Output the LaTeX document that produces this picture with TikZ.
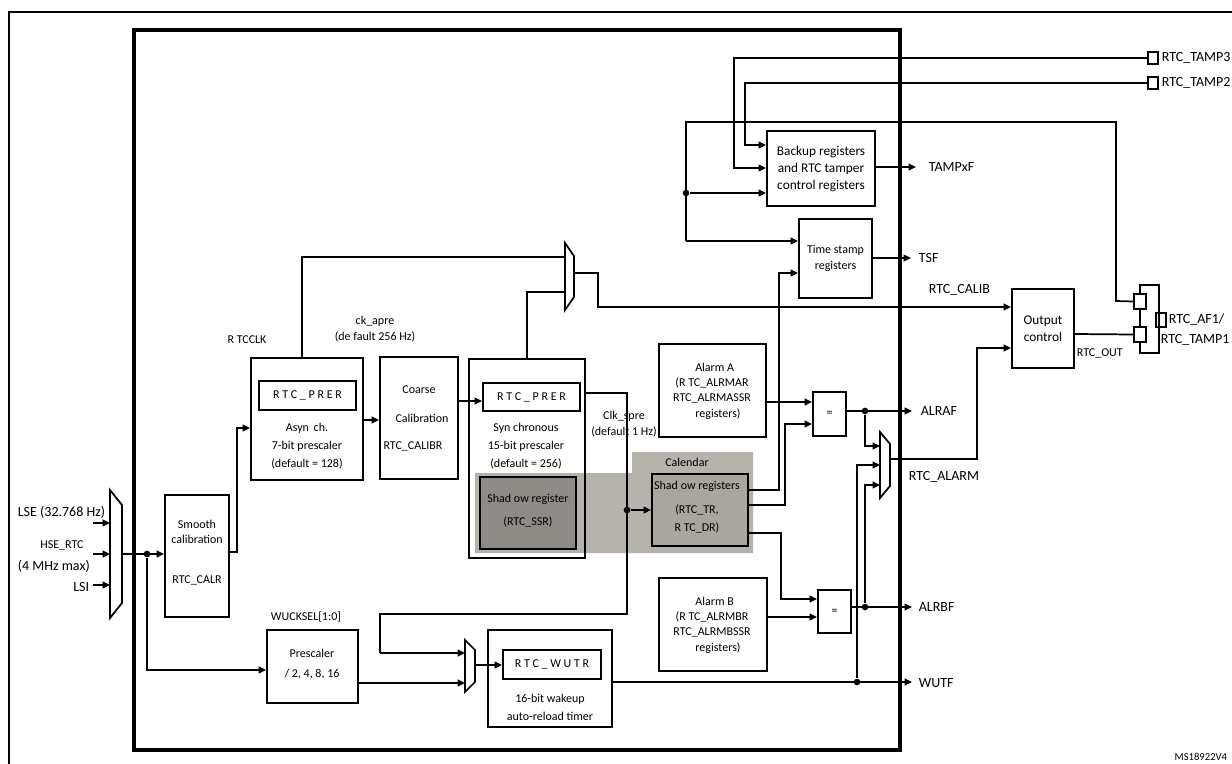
\documentclass[tikz,border=0pt]{standalone}
\usepackage{fontspec}
\setmainfont{Carlito}
\usetikzlibrary{arrows.meta,fit}
\definecolor{band}{HTML}{B6B3AD}
\definecolor{ssrc}{HTML}{8E8B86}
\definecolor{shc}{HTML}{A9A6A0}
\begin{document}
\begin{tikzpicture}[x=0.75pt,y=-0.75pt,line width=1.3pt,
  box/.style={draw,inner sep=0pt,line width=1.4pt},
  sw/.style={draw,inner sep=0pt,line width=1.1pt},
  a/.style={-{Triangle[length=5.5pt,width=5pt]}},
  t/.style={inner sep=0pt,font=\fontsize{9}{11.5}\selectfont,align=center},
  m/.style={inner sep=0pt,font=\fontsize{10}{12.5}\selectfont,align=center},
  l/.style={inner sep=0pt,font=\fontsize{10.5}{12}\selectfont,anchor=west},
  dot/.style={circle,fill,inner sep=0pt,minimum size=5pt}]
\useasboundingbox (0,0) rectangle (1232,764);
\begin{scope}
\clip (0,0) rectangle (1232,764);
% frames
\draw[line width=1.3pt] (9,790) -- (9,12) -- (1260,12);
\draw[line width=2.3pt] (134,30) rectangle (900,750);
% gray band
\fill[band] (475,473) -- (632,473) -- (632,452) -- (753,452) -- (753,553) -- (475,553) -- cycle;
% muxes
\draw (110,490) -- (122,505) -- (122,603) -- (110,618) -- cycle;
\draw (565,243) -- (574,256) -- (574,297) -- (565,310) -- cycle;
\draw (465,640) -- (475,650) -- (475,682) -- (465,692) -- cycle;
\draw (880,432) -- (890,444) -- (890,486) -- (880,498) -- cycle;
% boxes
\node[box,fit={(165,495) (229,617)}] (smooth) {};
\node[box,fit={(251,358) (363,480)}] (async) {};
\node[box,fit={(259,381) (356,410)}] (aprer) {};
\node[box,fit={(380,357) (458,479)}] (coarse) {};
\node[box,fit={(469,359) (585,558)}] (sync) {};
\node[box,fit={(483,383) (580,411)}] (sprer) {};
\node[box,fill=ssrc,fit={(480,477) (576,549)}] (ssr) {};
\node[box,fill=shc,fit={(652,474) (748,546)}] (shadow) {};
\node[box,fit={(267,630) (358,703)}] (presc) {};
\node[box,fit={(488,630) (612,727)}] (wut) {};
\node[box,fit={(503,650) (601,679)}] (wutr) {};
\node[box,fit={(659,344) (766,437)}] (alma) {};
\node[box,fit={(659,578) (767,671)}] (almb) {};
\node[box,fit={(813,392) (846,436)}] (eqa) {};
\node[box,fit={(818,590) (851,633)}] (eqb) {};
\node[box,fit={(767,131) (875,206)}] (backup) {};
\node[box,fit={(799,219) (872,298)}] (tstamp) {};
\node[box,fit={(1012,289) (1074,368)}] (outc) {};
\node[sw,fit={(1134,294) (1146,309)}] (s1) {};
\node[sw,fit={(1134,327) (1146,342)}] (s2) {};
\node[sw,fit={(1148,52) (1158,64)}] (p3) {};
\node[sw,fit={(1148,77) (1158,89)}] (p2) {};
\node[sw,fit={(1156,313) (1166,327)}] (p1) {};
\draw[line width=1.1pt] (1140,294) -- (1140,285) -- (1159,285) -- (1159,353) -- (1140,353) -- (1140,342);
\draw[line width=1.1pt] (1140,309) -- (1140,327);
% texts
\node[l] at (17,512) {LSE (32.768 Hz)};
\node[t] at (62,545) {HSE\_RTC};
\node[l] at (17,566) {(4 MHz max)};
\node[l,anchor=east] at (90,587) {LSI};
\node[t] at (197,532) {Smooth\\calibration};
\node[t] at (197,580) {RTC\_CALR};
\node[t] at (247,340) {R TCCLK};
\node[t] at (307.5,395.5) {R T C \_ P R E R};
\node[t,align=center] at (307,446) {Asyn\, ch.\\[2pt]7-bit prescaler\\[2pt](default = 128)};
\node[t] at (375,329) {ck\_apre\\(de fault 256 Hz)};
\node[t] at (419,390) {Coarse};
\node[t] at (422,418) {Calibration};
\node[t] at (413,446) {RTC\_CALIBR};
\node[t] at (531.5,397) {R T C \_ P R E R};
\node[t] at (526,446) {Syn chronous\\[2pt]15-bit prescaler\\[2pt](default = 256)};
\node[t] at (528,499) {Shad ow register};
\node[t] at (528,522) {(RTC\_SSR)};
\node[t] at (624,424) {Clk\_spre\\(default 1 Hz)};
\node[t] at (687,462) {Calendar};
\node[t] at (697,486) {Shad ow registers};
\node[t] at (697,519) {(RTC\_TR,\\[2pt]R TC\_DR)};
\node[t] at (306,617) {WUCKSEL[1:0]};
\node[t] at (312,664) {Prescaler\\[3pt]/ 2, 4, 8, 16};
\node[t] at (552,664.5) {R T C \_ W U T R};
\node[t] at (550,707) {16-bit wakeup\\[2pt]auto-reload timer};
\node[t] at (712,391) {\ \ Alarm A\\(R TC\_ALRMAR\\RTC\_ALRMASSR\\\quad registers)};
\node[t] at (712,625) {\ \ Alarm B\\(R TC\_ALRMBR\\RTC\_ALRMBSSR\\\quad registers)};
\node[t] at (829.5,414) {=};
\node[t] at (834.5,611.5) {=};
\node[m] at (821,169) {Backup registers\\and RTC tamper\\control registers};
\node[t] at (835.5,258.5) {Time stamp\\registers};
\node[m] at (1043,329) {Output\\control};
\node[l] at (928,167) {TAMPxF};
\node[l] at (918,258) {TSF};
\node[l] at (928,290) {RTC\_CALIB};
\node[l] at (920,411) {ALRAF};
\node[l] at (908,477) {RTC\_ALARM};
\node[l] at (918,607) {ALRBF};
\node[l] at (918,683) {WUTF};
\node[t,anchor=west] at (1076,353) {RTC\_OUT};
\node[l] at (1161,58) {RTC\_TAMP3};
\node[l] at (1161,83) {RTC\_TAMP2};
\node[l] at (1168,320) {RTC\_AF1/};
\node[l] at (1160,340) {RTC\_TAMP1};
\node[t,anchor=east,font=\fontsize{8}{9}\selectfont] at (1228,757) {MS18922V4};
% inputs
\coordinate (i1) at (93,523); \coordinate (i2) at (93,554); \coordinate (i3) at (93,585);
\draw[a] (i1) -- (110,523); \draw[a] (i2) -- (110,554); \draw[a] (i3) -- (110,585);
\node[dot] (d1) at (147,554) {};
\draw[a] (122,554) -- (smooth.west |- d1);
\draw[a] (d1) |- (presc.west |- 0,670);
\draw[a] (229,552) -- (237,552) |- (async.west |- 0,428);
\draw (async.north -| 302,0) |- (565,257);
\draw[a] (async.east |- 0,420) -- (coarse.west |- 0,420);
\draw[a,line width=0.9pt] (coarse.east |- 0,401) -- (sprer.west |- 0,401);
\draw (sync.north -| 527,0) |- (565,292);
\draw[a] (574,273) -- (598,273) |- (outc.west |- 0,307);
% clk_spre
\draw (585,393) -- (627,393) -- (627,614) -- (380,614) -- (380,653);
\draw[a] (380,653) -- (465,653);
\node[dot] (d2) at (627,510) {};
\draw[a] (d2) -- (shadow.west |- d2);
\draw[a] (presc.east |- 0,683) -- (465,683);
\draw[a] (475,665) -- (wutr.west |- 0,665);
% wutf
\node[dot] (d3) at (857,682) {};
\draw[a] (wut.east |- d3) -- (912,682);
\draw[a] (d3) -- (857,465) -- (880,465);
% alarms
\draw[a] (alma.east |- 0,402) -- (eqa.west |- 0,402);
\draw[a] (shadow.east |- 0,505) -- (785,505) |- (eqa.west |- 0,424);
\draw[a] (shadow.east |- 0,490) -- (779,490) |- (tstamp.west |- 0,273);
\draw[a] (shadow.east |- 0,533) -- (781,533) |- (eqb.west |- 0,599);
\draw[a] (almb.east |- 0,617) -- (eqb.west |- 0,617);
\node[dot] (d4) at (865,411) {};
\draw[a] (eqa.east |- d4) -- (912,411);
\draw[a] (d4) |- (880,446);
\node[dot] (d5) at (865,607) {};
\draw[a] (eqb.east |- d5) -- (912,607);
\draw[a] (d5) |- (880,485);
\draw[a] (890,459) -- (977,459) |- (outc.west |- 0,348);
% tamper
\draw[a] (p3.west) -- (734,58) |- (backup.west |- 0,168);
\draw[a] (p2.west) -- (745,83) |- (backup.west |- 0,145);
\draw (s1.west) -- (1116,301) -- (1116,122) -- (686,122) -- (686,241);
\draw[a] (686,241) -- (tstamp.west |- 0,241);
\node[dot] (d6) at (686,193) {};
\draw[a] (d6) -- (backup.west |- d6);
\draw[a] (backup.east |- 0,167) -- (916,167);
\draw[a] (tstamp.east |- 0,258) -- (911,258);
\draw (outc.east |- 0,334) -- (s2.west);
\end{scope}
\end{tikzpicture}
\end{document}
